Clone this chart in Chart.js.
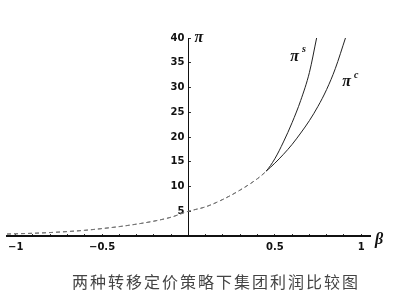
<!DOCTYPE html>
<html>
<head>
<meta charset="utf-8">
<script src="https://cdn.jsdelivr.net/npm/chart.js@4/dist/chart.umd.min.js"></script>
<style>
html, body { margin: 0; padding: 0; background: #fff; }
#wrap { position: relative; width: 397px; height: 304px; }
#caption {
    position: absolute; left: 72px; top: 272px;
    font: 16px "Noto Sans CJK SC"; letter-spacing: 2px;
    color: #444; white-space: nowrap; line-height: 18px;
}
</style>
</head>
<body>
<div id="wrap">
<canvas id="chart" width="397" height="304"></canvas>
<div id="caption">两种转移定价策略下集团利润比较图</div>
</div>
<script>
// beta values and group profit for the two pricing strategies
let beta_s = [-1.05, -1, -0.9, -0.8, -0.7, -0.6, -0.5, -0.4, -0.3, -0.2, -0.1, 0,
    0.1, 0.2, 0.3, 0.4, 0.45, 0.5, 0.55, 0.6, 0.65, 0.7, 0.742];
let pi_s = [0.4, 0.45, 0.55, 0.7, 0.9, 1.15, 1.5, 1.9, 2.4, 3.0, 3.8, 5.0,
    5.9, 7.4, 9.3, 11.6, 13.1, 15.6, 19.0, 22.9, 27.4, 33.0, 40];

let beta_c = [-1.05, -1, -0.9, -0.8, -0.7, -0.6, -0.5, -0.4, -0.3, -0.2, -0.1, 0,
    0.1, 0.2, 0.3, 0.4, 0.45, 0.5, 0.55, 0.6, 0.65, 0.7, 0.75, 0.8, 0.85, 0.909];
let pi_c = [0.4, 0.45, 0.55, 0.7, 0.9, 1.15, 1.5, 1.9, 2.4, 3.0, 3.8, 5.0,
    5.9, 7.4, 9.3, 11.6, 13.1, 14.7, 16.5, 18.5, 20.8, 23.3, 26.2, 29.6, 33.8, 40];

let x_tick_labels = [-1, -0.5, 0.5, 1];
let y_tick_labels = [5, 10, 15, 20, 25, 30, 35, 40];

let to_points = (xs, ys) => xs.map((x, i) => ({x: x, y: ys[i]}));

// lower common part looks dotted in the scan
let seg_dash = ctx => ctx.p0.parsed.x < 0.45 ? [4, 3] : undefined;
let seg_color = ctx => ctx.p0.parsed.x < 0.45 ? '#777' : undefined;

let curve_labels = {
    id: 'curve_labels',
    afterDraw(chart, args, opts) {
        let ctx = chart.ctx;
        let xs = chart.scales.x, ys = chart.scales.y;
        ctx.save();
        ctx.fillStyle = '#111';
        ctx.textBaseline = 'middle';
        ctx.textAlign = 'left';
        for (let l of opts.items) {
            let px = xs.getPixelForValue(l.at[0]);
            let py = ys.getPixelForValue(l.at[1]);
            ctx.font = 'italic bold 16px "Liberation Serif"';
            ctx.fillText(l.text, px, py);
            if (l.sup) {
                let w = ctx.measureText(l.text).width;
                ctx.font = 'italic bold 10px "Liberation Serif"';
                ctx.fillText(l.sup, px + w + 3, py - 7);
            }
        }
        ctx.restore();
    }
};

Chart.defaults.font.family = '"DejaVu Sans"';
Chart.defaults.color = '#111';

let ctx = document.getElementById('chart').getContext('2d');
let chart = new Chart(ctx, {
    type: 'scatter',
    data: {
        datasets: [{
            label: 'pi_s',
            data: to_points(beta_s, pi_s),
            showLine: true,
            borderColor: '#222',
            borderWidth: 1,
            pointRadius: 0,
            cubicInterpolationMode: 'monotone',
            segment: {borderDash: seg_dash, borderColor: seg_color},
        }, {
            label: 'pi_c',
            data: to_points(beta_c, pi_c),
            showLine: true,
            borderColor: '#222',
            borderWidth: 1,
            pointRadius: 0,
            cubicInterpolationMode: 'monotone',
            segment: {borderDash: seg_dash, borderColor: seg_color},
        }],
    },
    options: {
        responsive: false,
        animation: false,
        events: [],
        layout: {padding: {left: 0, right: 27, top: 38, bottom: 68}},
        plugins: {
            legend: {display: false},
            tooltip: {enabled: false},
            curve_labels: {
                items: [
                    {text: 'π', at: [0.035, 40]},
                    {text: 'π', sup: 's', at: [0.59, 36.2]},
                    {text: 'π', sup: 'c', at: [0.89, 31.1]},
                    {text: 'β', at: [1.08, -0.8]},
                ],
            },
        },
        scales: {
            x: {
                type: 'linear',
                position: {y: 0},
                min: -1.051,
                max: 1.051,
                afterFit: s => { s.height = 0; },
                afterBuildTicks: s => {
                    let t = [];
                    for (let i = -10; i <= 10; i++) t.push({value: i / 10});
                    s.ticks = t;
                },
                border: {display: true, color: '#111', width: 2},
                grid: {drawOnChartArea: false, drawTicks: true, tickLength: -3, color: '#333'},
                ticks: {
                    padding: 8,
                    autoSkip: false,
                    maxRotation: 0,
                    font: {size: 10, weight: 'bold'},
                    callback: v => {
                        let r = Math.round(v * 10) / 10;
                        return x_tick_labels.includes(r) ? String(r).replace('-', '\u2212') : '';
                    },
                },
            },
            y: {
                type: 'linear',
                position: 'center',
                min: 0,
                max: 40,
                afterFit: s => { s.width = 0; },
                border: {display: true, color: '#111', width: 1},
                grid: {drawOnChartArea: false, drawTicks: true, tickLength: -3, color: '#333'},
                ticks: {
                    stepSize: 5,
                    padding: 7,
                    font: {size: 10, weight: 'bold'},
                    callback: v => y_tick_labels.includes(v) ? String(v) : '',
                },
            },
        },
    },
    plugins: [curve_labels],
});
</script>
</body>
</html>
